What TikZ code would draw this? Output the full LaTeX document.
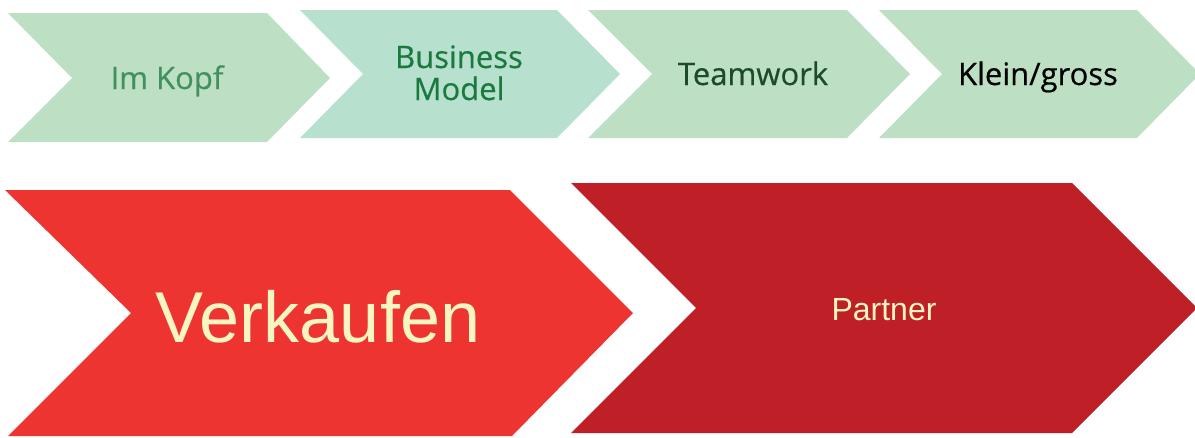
\documentclass[tikz,border=0pt]{standalone}
\usepackage{fontspec}
\newfontfamily\topsans[FakeBold=0.5]{Open Sans}
\newfontfamily\libsans{Liberation Sans}
\definecolor{mintA}{HTML}{BDE0C5}
\definecolor{mintB}{HTML}{B8E0CF}
\definecolor{redA}{HTML}{EE3430}
\definecolor{redB}{HTML}{BF1F26}
\definecolor{cream}{HTML}{F7F5C0}
\definecolor{txtA}{HTML}{43905F}
\definecolor{txtB}{HTML}{1A7A3E}
\definecolor{txtC}{HTML}{1C4A2E}
\tikzset{
  toplabel/.style={anchor=base, inner sep=0pt, font=\topsans\fontsize{31}{33}\selectfont},
  biglabel/.style={anchor=base, inner sep=0pt, text=cream, font=\libsans\fontsize{72}{75}\selectfont},
  midlabel/.style={anchor=base, inner sep=0pt, text=cream, font=\libsans\fontsize{32}{36}\selectfont}
}
\begin{document}
\begin{tikzpicture}[x=1pt,y=-1pt]
\useasboundingbox (0,0) rectangle (1195,437);
% top row chevrons
\fill[mintA] (8,13) -- (267,13) -- (330,78) -- (267,142) -- (8,142) -- (72,78) -- cycle;
\fill[mintB] (300,10) -- (557,10) -- (620,74) -- (557,138) -- (300,138) -- (363,74) -- cycle;
\fill[mintA] (588,10) -- (847,10) -- (910,74) -- (847,138) -- (588,138) -- (652,74) -- cycle;
\fill[mintA] (879,10) -- (1137,10) -- (1200,74) -- (1137,138) -- (879,138) -- (942,74) -- cycle;
% bottom row chevrons
\fill[redA] (5,190) -- (510,190) -- (633,313) -- (512,436) -- (8,436) -- (131,313) -- cycle;
\fill[redB] (571,183) -- (1072,183) -- (1197,308) -- (1072,433) -- (571,433) -- (696,308) -- cycle;
% labels
\node[toplabel, text=txtA] (kopf) at (167,89) {Im Kopf};
\node[toplabel, text=txtB] (business) at (459,68) {Business};
\node[toplabel, text=txtB] (model) at (459,100) {Model};
\node[toplabel, text=txtC] (team) at (753,85) {Teamwork};
\node[toplabel, text=black] (klein) at (1038,85) {Klein/gross};
\node[biglabel] (verk) at (318,342) {Verkaufen};
\node[midlabel] (partner) at (884,320) {Partner};
\end{tikzpicture}
\end{document}
